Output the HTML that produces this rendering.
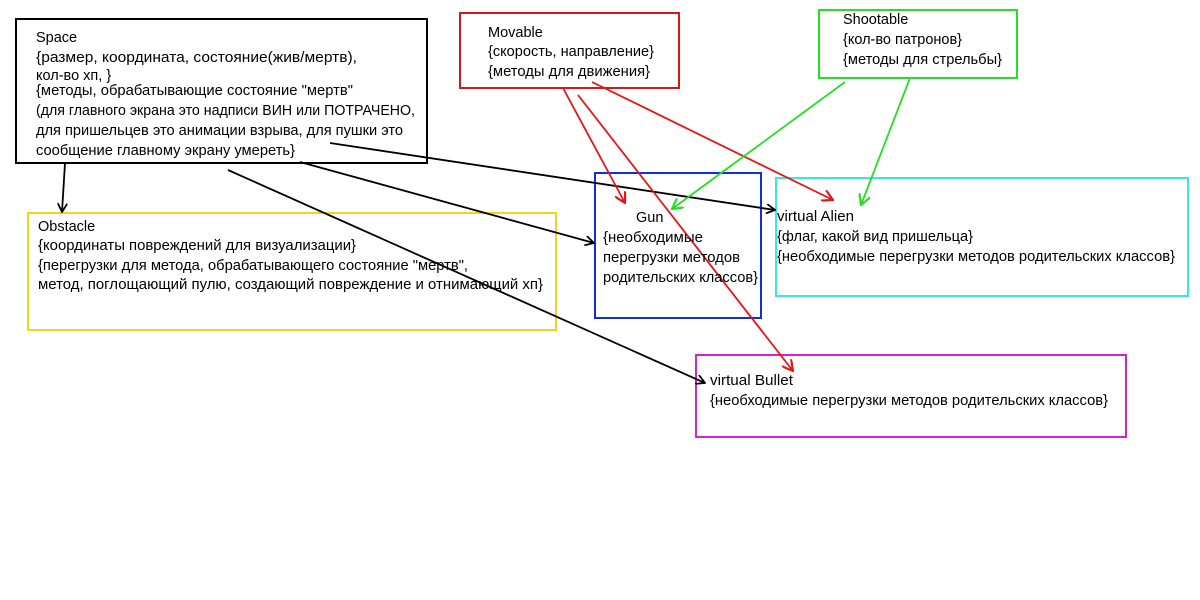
<!DOCTYPE html>
<html><head><meta charset="utf-8"><style>
html,body{margin:0;padding:0;background:#fff;width:1200px;height:600px;overflow:hidden}
svg text{font-family:"Liberation Sans","DejaVu Sans",sans-serif;font-size:14.5px;fill:#000}
</style></head><body>
<svg width="1200" height="600" viewBox="0 0 1200 600" xmlns="http://www.w3.org/2000/svg">
<defs>
<marker id="ak" viewBox="0 0 10 10" refX="9" refY="5" markerWidth="10" markerHeight="10" markerUnits="userSpaceOnUse" orient="auto"><path d="M0,0 L9,5 L0,10" fill="none" stroke="#000" stroke-width="1.8"/></marker>
<marker id="ar" viewBox="0 0 10 10" refX="9" refY="5" markerWidth="12" markerHeight="12" markerUnits="userSpaceOnUse" orient="auto"><path d="M0,0 L9,5 L0,10" fill="none" stroke="#e51515" stroke-width="1.8"/></marker>
<marker id="ag" viewBox="0 0 10 10" refX="9" refY="5" markerWidth="12" markerHeight="12" markerUnits="userSpaceOnUse" orient="auto"><path d="M0,0 L9,5 L0,10" fill="none" stroke="#22e022" stroke-width="1.8"/></marker>
</defs>
<g fill="none" stroke-width="2">
<rect x="16" y="19" width="411" height="144" stroke="#000"/>
<rect x="28" y="213" width="528" height="117" stroke="#f5d31c"/>
<rect x="460" y="13" width="219" height="75" stroke="#d81818"/>
<rect x="819" y="10" width="198" height="68" stroke="#22e022"/>
<rect x="595" y="173" width="166" height="145" stroke="#1030d0"/>
<rect x="776" y="178" width="412" height="118" stroke="#33e8e8"/>
<rect x="696" y="355" width="430" height="82" stroke="#d622c8"/>
</g>
<g stroke="#000" stroke-width="1.8" fill="none">
<line x1="65" y1="163" x2="62" y2="212" marker-end="url(#ak)"/>
<line x1="300" y1="162" x2="594" y2="243" marker-end="url(#ak)"/>
<line x1="330" y1="143" x2="775" y2="210" marker-end="url(#ak)"/>
<line x1="228" y1="170" x2="705" y2="383" marker-end="url(#ak)"/>
</g>
<g stroke="#e51515" stroke-width="1.8" fill="none">
<line x1="563" y1="88" x2="625" y2="203" marker-end="url(#ar)"/>
<line x1="578" y1="95" x2="793" y2="371" marker-end="url(#ar)"/>
<line x1="592" y1="82" x2="833" y2="200" marker-end="url(#ar)"/>
</g>
<g stroke="#22e022" stroke-width="1.8" fill="none">
<line x1="845" y1="82" x2="672" y2="209" marker-end="url(#ag)"/>
<line x1="910" y1="78" x2="861" y2="205" marker-end="url(#ag)"/>
</g>
<text x="36" y="42">Space</text>
<text x="36" y="62" textLength="321" lengthAdjust="spacingAndGlyphs">{размер, координата, состояние(жив/мертв),</text>
<text x="36" y="80">кол-во хп, }</text>
<text x="36" y="95" textLength="317" lengthAdjust="spacingAndGlyphs">{методы, обрабатывающие состояние "мертв"</text>
<text x="36" y="115" textLength="379" lengthAdjust="spacingAndGlyphs">(для главного экрана это надписи ВИН или ПОТРАЧЕНО,</text>
<text x="36" y="135" textLength="367" lengthAdjust="spacingAndGlyphs">для пришельцев это анимации взрыва, для пушки это</text>
<text x="36" y="155" textLength="259" lengthAdjust="spacingAndGlyphs">сообщение главному экрану умереть}</text>

<text x="38" y="231">Obstacle</text>
<text x="38" y="250" textLength="318" lengthAdjust="spacingAndGlyphs">{координаты повреждений для визуализации}</text>
<text x="38" y="270" textLength="430" lengthAdjust="spacingAndGlyphs">{перегрузки для метода, обрабатывающего состояние "мертв",</text>
<text x="38" y="289" textLength="505" lengthAdjust="spacingAndGlyphs">метод, поглощающий пулю, создающий повреждение и отнимающий хп}</text>

<text x="488" y="37">Movable</text>
<text x="488" y="56" textLength="166" lengthAdjust="spacingAndGlyphs">{скорость, направление}</text>
<text x="488" y="76" textLength="162" lengthAdjust="spacingAndGlyphs">{методы для движения}</text>

<text x="843" y="24">Shootable</text>
<text x="843" y="44">{кол-во патронов}</text>
<text x="843" y="64" textLength="159" lengthAdjust="spacingAndGlyphs">{методы для стрельбы}</text>

<text x="636" y="222">Gun</text>
<text x="603" y="242" textLength="100" lengthAdjust="spacingAndGlyphs">{необходимые</text>
<text x="603" y="262" textLength="137" lengthAdjust="spacingAndGlyphs">перегрузки методов</text>
<text x="603" y="282" textLength="155" lengthAdjust="spacingAndGlyphs">родительских классов}</text>

<text x="777" y="221" textLength="77" lengthAdjust="spacingAndGlyphs">virtual Alien</text>
<text x="777" y="241" textLength="196" lengthAdjust="spacingAndGlyphs">{флаг, какой вид пришельца}</text>
<text x="777" y="261" textLength="398" lengthAdjust="spacingAndGlyphs">{необходимые перегрузки методов родительских классов}</text>

<text x="710" y="385" textLength="83" lengthAdjust="spacingAndGlyphs">virtual Bullet</text>
<text x="710" y="405" textLength="398" lengthAdjust="spacingAndGlyphs">{необходимые перегрузки методов родительских классов}</text>
</svg>
</body></html>
